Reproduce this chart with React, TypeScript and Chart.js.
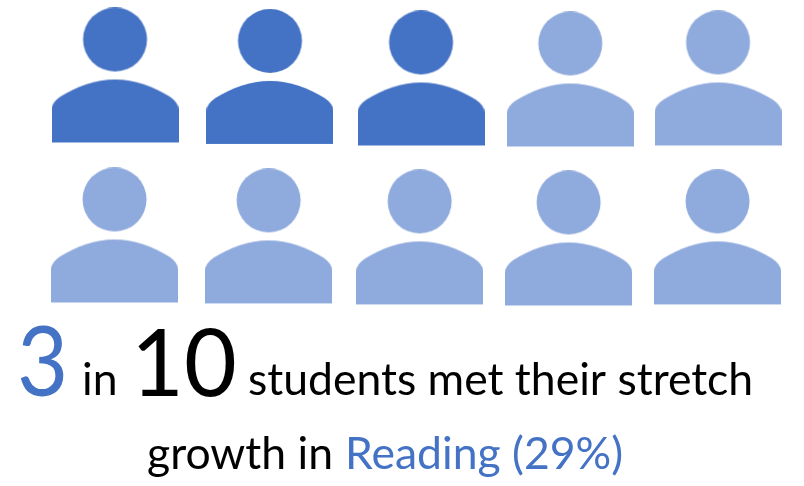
import React, { useEffect, useRef } from "react";
import { Chart, registerables } from "chart.js";

Chart.register(...registerables);

// One seat per student; fractional seats follow the slightly uneven hand placement of the icons.
const seatColumns = [0, 1.033, 2.04, 3.035, 4.02, -0.003, 1.024, 2.031, 3.024, 4.017];
const seatRows = [0.006, 0.015, 0.025, 0.031, 0.025, 1.006, 1.012, 1.018, 1.025, 1.018];
const studentsMet = 3;
const metColour = "#4472C4";
const otherColour = "#8FAADC";

const captionRuns = [
  { text: "3", x: 17, y: 396, font: "96px Lato", colour: metColour, squeeze: 0.92 },
  { text: "in", x: 82, y: 395, font: "44.5px Lato", colour: "#000000", squeeze: 1 },
  { text: "10", x: 131, y: 396, font: "94px Lato", colour: "#000000", squeeze: 0.97 },
  { text: "students met their stretch", x: 248, y: 395, font: "44.5px Lato", colour: "#000000", squeeze: 1 },
  { text: "growth in", x: 147, y: 469, font: "44.5px Lato", colour: "#000000", squeeze: 1 },
  { text: "Reading (29%)", x: 345, y: 469, font: "44.5px Lato", colour: metColour, squeeze: 1 },
];

// Head and shoulders icon, rendered once per colour and used as a point style.
function personIcon(colour: string): HTMLCanvasElement {
  const icon = document.createElement("canvas");
  icon.width = 127;
  icon.height = 136;
  const ctx = icon.getContext("2d")!;
  ctx.fillStyle = colour;
  ctx.beginPath();
  ctx.arc(63.5, 32, 32, 0, Math.PI * 2);
  ctx.fill();
  ctx.beginPath();
  ctx.moveTo(0, 135);
  ctx.lineTo(0, 102);
  ctx.quadraticCurveTo(0, 95, 9, 89);
  ctx.bezierCurveTo(25, 79, 44, 72, 63.5, 72);
  ctx.bezierCurveTo(83, 72, 102, 79, 118, 89);
  ctx.quadraticCurveTo(127, 95, 127, 102);
  ctx.lineTo(127, 135);
  ctx.closePath();
  ctx.fill();
  return icon;
}

const captionPlugin = {
  id: "caption",
  afterDraw(chart: Chart) {
    const { ctx } = chart;
    ctx.save();
    ctx.textBaseline = "alphabetic";
    ctx.textAlign = "left";
    for (const run of captionRuns) {
      ctx.save();
      ctx.translate(run.x, run.y);
      ctx.scale(run.squeeze, 1);
      ctx.font = run.font;
      ctx.fillStyle = run.colour;
      ctx.fillText(run.text, 0, 0);
      ctx.restore();
    }
    ctx.restore();
  },
};

export default function App() {
  const canvasRef = useRef<HTMLCanvasElement>(null);

  useEffect(() => {
    const seats = seatColumns.map((x, i) => ({ x, y: seatRows[i] }));
    const chart = new Chart(canvasRef.current!, {
      type: "scatter",
      data: {
        datasets: [
          {
            label: "Met stretch growth",
            data: seats.slice(0, studentsMet),
            pointStyle: personIcon(metColour),
            pointRadius: 60,
            clip: false,
          },
          {
            label: "Did not meet stretch growth",
            data: seats.slice(studentsMet),
            pointStyle: personIcon(otherColour),
            pointRadius: 60,
            clip: false,
          },
        ],
      },
      options: {
        responsive: false,
        animation: false,
        layout: { padding: 0, autoPadding: false },
        plugins: { legend: { display: false }, tooltip: { enabled: false } },
        scales: {
          x: { type: "linear", display: false, min: -0.7667, max: 4.5933 },
          y: { type: "linear", display: false, reverse: true, min: -0.4656, max: 2.5719 },
        },
      },
      plugins: [captionPlugin],
    });
    return () => chart.destroy();
  }, []);

  return (
    <div style={{ position: "fixed", left: 0, top: 0, width: 804, height: 486, background: "#fff" }}>
      <canvas ref={canvasRef} width={804} height={486} style={{ display: "block" }} />
    </div>
  );
}
